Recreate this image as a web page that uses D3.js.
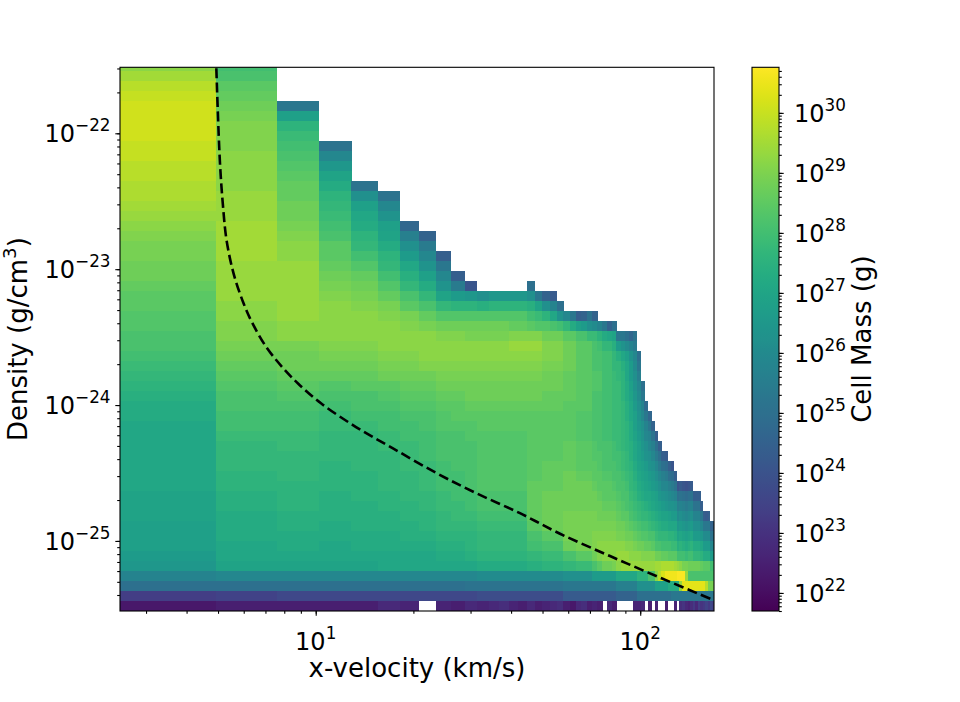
<!DOCTYPE html>
<html>
<head>
<meta charset="utf-8">
<script src="https://cdn.jsdelivr.net/npm/d3@7"></script>
<style>
  body { margin: 0; background: #fff; }
  svg { display: block; font-family: "DejaVu Sans", sans-serif; }
</style>
</head>
<body>
<div class="chart"></div>
<script>

/////////////// DATA ///////////////////////////////

// x-velocity bins (km/s), linear spacing
var velBinStart = 2.29;
var velBinWidth = 2.649;
// density bins, log10 spacing (g/cm^3)
var densLogStart = -25.516;
var densLogStep = 0.07361;
var densBinCount = 55;

var velRange = [2.494, 168.8];
var densRange = [3.05e-26, 3.06e-22];
var massRange = [5.0e21, 5.75e30];

// cell mass per bin: one char per velocity bin, log10(M) = massLogBase + massLogStep * index
// '.' = empty bin. rows go from the top density bin down to the lowest one
var massLogBase = 21.7;
var massLogStep = 0.15;
var massCode = '0123456789abcdefghijklmnopqrstuvwxyzABCDEFGHIJKLMNOPQRSTUVWXYZ';
var massRows = [
  'OG',
  'QH',
  'SJ',
  'TK',
  'ULo',
  'UMy',
  'UND',
  'UNF',
  'TNGn',
  'TOHs',
  'SOIw',
  'SOJz',
  'ROKBn',
  'RPKDun',
  'QPLEys',
  'PPLFAv',
  'OQMGByk',
  'NQNHDzqj',
  'MQOJEBup',
  'MQOJGDxsi',
  'LPPKIEAvo',
  'LPPLKGCysi',
  'KPPMLIEBvp g.....m',
  'JPPNMKHEzx wuwwwwuojh',
  'JOPONMJHED DCDDDDCzur m',
  'IOPOONMKII IIIIIIGFDA vsoijnj',
  'INOOOONMLL LLLLKKJIIH GEByxutroj m',
  'HNOOOOOONN MMMMNNNNLL LJJHHFFDBA zoomkn',
  'HMMNNOOOOO OOOOPPPPNN NLLJJJHGEE Cxvtrp',
  'GLLMMNNOOO OOOOOOOONN NLLJJJHHGG ECAyvsm',
  'FKLLLMMNNN NNNNNNNNMM MLLJJJHHGG EECAxto',
  'EJKKKLLLMM MMMMMMMMLL LKKJJJIIGG FEDAxuq',
  'DIJIJJKKLL LLLLLLLLLL LKKJJJIIGG FFDByvsm',
  'CHIHHIJJKK LLLLLLLLKK KKKJJJHHGG FFDBzwto',
  'BHHGHHIIJJ KKKKKKKKKK KJJJJJHHGG FFECAxurl',
  'BGGFGGHHIJ JJJJJJJJJJ JJJIIIHHGG FFECAyvsok',
  'AGGFFGGHII IJJJJJJJJJ JJJIIIHHGG FFEDBywuro j',
  'AFFEEFGGHH IIIIIIJJJJ JJJIIIHHGG FFEDBzxvsr ni',
  'AEFEEFFGHH HIIIIIJJJJ JKKJJJIHHH GFEDCAywus qmi',
  'AEEEEEFGHH HIIIIIJJJJ JKKJJJIIHH GGFECAyxvu spmih',
  'AEEDEEFFGH HIIIIIJJKK KKKJJJJIHH HGFEDBzyxv uspmlig',
  'ADEDDEEFGG HIIIIIJJKK KLLKKKJJII HHGFECAzyx wusqpmli',
  'ADDDDEEFGG HIIIIIKKKK KLLLLLKJJJ IHHGEDBAzy xwussqpngh gfgh',
  'zCDCDDEEFG GHHHHHKKLL LLLLLLLKJJ JIHHFECBAA zywvutsrmn mlmniii',
  'zCDCCDDEFF GHHHHHKKLL LLLLLLLLKK KJIHGFEDCB Azyxwvvuqr qpqrnnni',
  'zBCCCCDDEF FGGGGGKKLL LMMMMMMLLL LKJJHGFEED CBAzzyxxtu tsturrroih i',
  'yBCBCCCDEE EFFFFFJJLL LMMMMMMMMM MLLKJIHGGF EDCBBAAAwx wvwxuuusoo ojj',
  'yBBBBBCCDD DEEEEEHHJJ JMMMMMNNNN NMMLLKJIIH HFEEEDDCzA zyzAxxxwtt tnn',
  'yABABBBBCC DEEEEEGGHH HLLMMMNOOO OOONNMLLKK JHHGGGFFCD CBCDBBBAxx xss',
  'xAAAAAAABB CDDDDDEEFF FHHJJJLNOO OPPPOOONNN NLLKKJJJGG GFGGEEEDBB Bxx',
  'wzzzzAAAAA ABBBBBCCDD DEEFFFHJLL MOPPPPPPPP PQQRRRRQPO MMLLLLLKJJ JGG',
  'rsssssssss sttttttttt tuuuuuxxxx xAAAAADDDH HOSVXXXXYY YPHHHHHHHH HHH',
  'mmmmmmmmmm nnnnnnnnnn nooooooooo oqqqqquuuu uyyyyBBBBP WWWWWWWWWS MMM',
  'bcdddddddd deeeeeeeee ehhhhhhhhh hjjjjjmmmm mmmmmmoooo oooooooooo ooo',
  '4555576.65 7678657567 85478565.7 5....667.5 .6..5..6.8 9768a7b9ac adc'
];

// dashed reference curve
var curveVel  = [4.94, 5.064, 5.173, 5.311, 5.582, 5.993, 6.388, 7.029, 7.873, 8.82,
                 10.38, 13.31, 17.3, 23.6, 31.3, 42.6, 56.6, 80.7, 115, 168.8];
var curveDens = [3.01e-22, 6.36e-23, 3.02e-23, 1.64e-23, 9.32e-24, 5.61e-24, 3.99e-24,
                 2.69e-24, 1.91e-24, 1.44e-24, 1.03e-24, 6.89e-25, 4.80e-25, 3.15e-25,
                 2.24e-25, 1.60e-25, 1.13e-25, 7.74e-26, 5.37e-26, 3.66e-26];

var velTicks = [10, 100];
var densTicks = [1e-25, 1e-24, 1e-23, 1e-22];
var massTicks = [1e22, 1e23, 1e24, 1e25, 1e26, 1e27, 1e28, 1e29, 1e30];

var xLabel = 'x-velocity (km/s)';
var cLabel = 'Cell Mass (g)';

/////////////// LAYOUT ///////////////////////////////////////////////////////

var margin = { top: 67.3, left: 120 };
var width = 594;
var height = 543.7;
var cbX = 752, cbW = 27;
var tickFont = 24, supFont = 16.8, labelFont = 26;

var svg = d3.select('.chart')
  .append('svg')
  .attr('width', 960)
  .attr('height', 702);

var xScale = d3.scaleLog().domain(velRange).range([margin.left, margin.left + width]);
var yScale = d3.scaleLog().domain(densRange).range([margin.top + height, margin.top]);
var cScale = d3.scaleLog().domain(massRange).range([margin.top + height, margin.top]);
var color = d3.scaleSequentialLog(d3.interpolateViridis).domain(massRange);

svg.append('clipPath')
  .attr('id', 'plotClip')
  .append('rect')
  .attr('x', margin.left)
  .attr('y', margin.top)
  .attr('width', width)
  .attr('height', height);

/////////////// CELLS ////////////////////////////////////////////////////////

var cells = [];
massRows.forEach(function(row, i) {
  var r = densBinCount - 1 - i;
  var s = row.replace(/ /g, '');
  for (var c = 0; c < s.length; c++) {
    if (s[c] === '.') continue;
    cells.push({
      v0: velBinStart + c * velBinWidth,
      v1: velBinStart + (c + 1) * velBinWidth,
      d0: Math.pow(10, densLogStart + r * densLogStep),
      d1: Math.pow(10, densLogStart + (r + 1) * densLogStep),
      mass: Math.pow(10, massLogBase + massLogStep * massCode.indexOf(s[c]))
    });
  }
});

var plot = svg.append('g').attr('clip-path', 'url(#plotClip)');

plot.selectAll('.cell')
  .data(cells)
  .enter()
  .append('rect')
  .attr('class', 'cell')
  .attr('x', d => xScale(d.v0))
  .attr('y', d => yScale(d.d1))
  .attr('width', d => xScale(d.v1) - xScale(d.v0) + 0.3)
  .attr('height', d => yScale(d.d0) - yScale(d.d1) + 0.3)
  .style('fill', d => color(d.mass))
  .style('shape-rendering', 'crispEdges');

var curve = d3.line()
  .x(d => xScale(d[0]))
  .y(d => yScale(d[1]))
  .curve(d3.curveCatmullRom.alpha(0.5));

plot.append('path')
  .attr('d', curve(d3.zip(curveVel, curveDens)))
  .style('fill', 'none')
  .style('stroke', '#000')
  .style('stroke-width', 2.6)
  .style('stroke-dasharray', '10,4.4');

/////////////// AXES /////////////////////////////////////////////////////////

function supLabel(text, value) {
  var e = Math.round(Math.log10(value));
  text.append('tspan').text('10');
  text.append('tspan')
    .attr('dy', -11)
    .style('font-size', supFont + 'px')
    .text(String(e).replace('-', '\u2212'));
}

function styleAxis(g) {
  g.select('.domain').remove();
  g.selectAll('line').style('stroke', '#000').style('stroke-width', 1.1);
}

// x axis
svg.append('g')
  .attr('transform', 'translate(0,' + (margin.top + height) + ')')
  .call(d3.axisBottom(xScale).tickValues(xScale.ticks()).tickSize(2.8).tickFormat(''))
  .call(styleAxis);
svg.append('g')
  .attr('transform', 'translate(0,' + (margin.top + height) + ')')
  .call(d3.axisBottom(xScale).tickValues(velTicks).tickSize(4.7).tickFormat(''))
  .call(styleAxis);

velTicks.forEach(function(v) {
  svg.append('text')
    .attr('x', xScale(v))
    .attr('y', 650)
    .style('text-anchor', 'middle')
    .style('font-size', tickFont + 'px')
    .call(supLabel, v);
});

// y axis
svg.append('g')
  .attr('transform', 'translate(' + margin.left + ',0)')
  .call(d3.axisLeft(yScale).tickValues(yScale.ticks()).tickSize(2.8).tickFormat(''))
  .call(styleAxis);
svg.append('g')
  .attr('transform', 'translate(' + margin.left + ',0)')
  .call(d3.axisLeft(yScale).tickValues(densTicks).tickSize(4.7).tickFormat(''))
  .call(styleAxis);

densTicks.forEach(function(v) {
  svg.append('text')
    .attr('x', 110.5)
    .attr('y', yScale(v) + 8.7)
    .style('text-anchor', 'end')
    .style('font-size', tickFont + 'px')
    .call(supLabel, v);
});

// frame
svg.append('rect')
  .attr('x', margin.left)
  .attr('y', margin.top)
  .attr('width', width)
  .attr('height', height)
  .style('fill', 'none')
  .style('stroke', '#000')
  .style('stroke-width', 1.1);

// axis labels
svg.append('text')
  .attr('x', margin.left + width / 2)
  .attr('y', 677)
  .style('text-anchor', 'middle')
  .style('font-size', labelFont + 'px')
  .text(xLabel);

var yLab = svg.append('text')
  .attr('transform', 'translate(27,' + (margin.top + height / 2) + ') rotate(-90)')
  .style('text-anchor', 'middle')
  .style('font-size', labelFont + 'px');
yLab.append('tspan').text('Density (g/cm');
yLab.append('tspan').attr('dy', -11).style('font-size', (labelFont * 0.7) + 'px').text('3');
yLab.append('tspan').attr('dy', 11).text(')');

/////////////// COLORBAR /////////////////////////////////////////////////////

var grad = svg.append('defs')
  .append('linearGradient')
  .attr('id', 'cbGrad')
  .attr('x1', 0).attr('y1', 1)
  .attr('x2', 0).attr('y2', 0);

grad.selectAll('stop')
  .data(d3.range(0, 1.0001, 0.02))
  .enter()
  .append('stop')
  .attr('offset', d => d)
  .attr('stop-color', d => d3.interpolateViridis(d));

svg.append('rect')
  .attr('x', cbX)
  .attr('y', margin.top)
  .attr('width', cbW)
  .attr('height', height)
  .style('fill', 'url(#cbGrad)')
  .style('stroke', '#000')
  .style('stroke-width', 1.1);

svg.append('g')
  .attr('transform', 'translate(' + (cbX + cbW) + ',0)')
  .call(d3.axisRight(cScale).tickValues(cScale.ticks(20)).tickSize(2.8).tickFormat(''))
  .call(styleAxis);
svg.append('g')
  .attr('transform', 'translate(' + (cbX + cbW) + ',0)')
  .call(d3.axisRight(cScale).tickValues(massTicks).tickSize(4.7).tickFormat(''))
  .call(styleAxis);

massTicks.forEach(function(v) {
  svg.append('text')
    .attr('x', 794)
    .attr('y', cScale(v) + 8.7)
    .style('text-anchor', 'start')
    .style('font-size', tickFont + 'px')
    .call(supLabel, v);
});

svg.append('text')
  .attr('transform', 'translate(871,' + (margin.top + height / 2) + ') rotate(-90)')
  .style('text-anchor', 'middle')
  .style('font-size', labelFont + 'px')
  .text(cLabel);

</script>
</body>
</html>
